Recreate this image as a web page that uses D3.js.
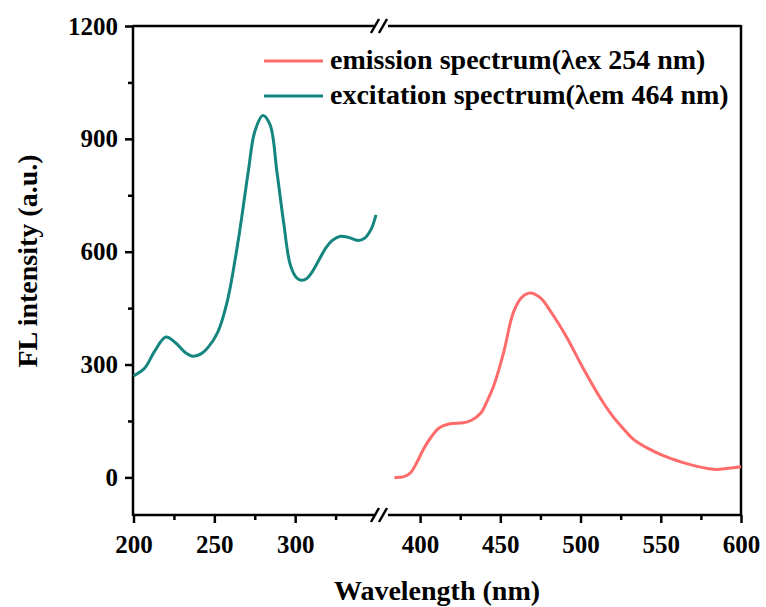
<!DOCTYPE html>
<html>
<head>
<meta charset="utf-8">
<script src="https://cdn.jsdelivr.net/npm/d3@7"></script>
<style>
  body { margin: 0; background: #fff; }
  text { font-family: "Times New Roman", "Liberation Serif", serif; font-weight: bold; fill: #000; }
</style>
</head>
<body>
<svg id="chart" width="766" height="607"></svg>
<script>
// excitation spectrum (left part of the broken axis)
var exWave = [200, 207, 213, 220, 226, 232, 237, 242, 246, 252, 258, 265, 271, 275, 280, 284.5, 288.7, 292.8, 297, 301, 304, 307, 310, 315, 319, 323, 328, 333, 339, 343, 347, 350];
var exVal  = [270, 291, 335, 373, 358, 332, 322, 329, 345, 385, 468, 636, 813, 919, 962, 937, 813, 680, 565, 530, 524, 528, 543, 580, 610, 630, 641, 638, 630, 636, 660, 698];

// emission spectrum (right part)
var emWave = [384, 390, 394, 398, 402, 407, 412, 418, 427, 432, 438, 442, 446, 452, 458, 463, 468.5, 475, 482, 491, 502, 512, 520, 527, 533, 542, 552, 562, 572, 580, 585, 592, 600];
var emVal  = [0, 2, 12, 40, 74, 108, 132, 142, 145, 152, 172, 205, 245, 331, 437, 477, 490, 477, 437, 375, 287, 213, 163, 128, 101, 77, 57, 42, 30, 23, 21, 24, 28];

var yTicks = [0, 300, 600, 900, 1200];
var yMinor = [150, 450, 750, 1050];
var xTicksL = [200, 250, 300], xMinorL = [225, 275, 325];
var xTicksR = [400, 450, 500, 550, 600], xMinorR = [425, 475, 525, 575];

var seriesNames = ['emission spectrum(\u03bbex 254 nm)', 'excitation spectrum(\u03bbem 464 nm)'];
var colors = ['#ff6b6b', '#14857f'];

var L = 133, R = 741, T = 26, B = 515;
var svg = d3.select('#chart');

var y = d3.scaleLinear().domain([-100, 1200]).range([B, T]);
var xL = d3.scaleLinear().domain([200, 350]).range([L + 0.5, 376]);
var xR = d3.scaleLinear().domain([375, 600]).range([380, R]);

// y axis, major then minor ticks
var gy = svg.append('g').attr('transform', 'translate(' + L + ',0)');
gy.call(d3.axisLeft(y).tickValues(yTicks).tickSize(8).tickPadding(7).tickFormat(d3.format('d')));
gy.append('g').call(d3.axisLeft(y).tickValues(yMinor).tickSize(5).tickFormat(''));

// bottom axes
var gxL = svg.append('g').attr('transform', 'translate(0,' + B + ')');
gxL.call(d3.axisBottom(xL).tickValues(xTicksL).tickSize(8).tickPadding(12));
gxL.append('g').call(d3.axisBottom(xL).tickValues(xMinorL).tickSize(5).tickFormat(''));
var gxR = svg.append('g').attr('transform', 'translate(0,' + B + ')');
gxR.call(d3.axisBottom(xR).tickValues(xTicksR).tickSize(8).tickPadding(12));
gxR.append('g').call(d3.axisBottom(xR).tickValues(xMinorR).tickSize(5).tickFormat(''));

svg.selectAll('.domain').remove();
svg.selectAll('.tick line').attr('stroke', '#000').attr('stroke-width', 2.5);
svg.selectAll('.tick text').style('font-size', '25px');

// frame with axis breaks
var frame = svg.append('g').attr('stroke', '#000').attr('stroke-width', 2.5).attr('fill', 'none');
frame.append('line').attr('x1', L).attr('x2', L).attr('y1', T - 1).attr('y2', B + 1);
frame.append('line').attr('x1', R).attr('x2', R).attr('y1', T - 1).attr('y2', B + 1);
[T, B].forEach(function(yy){
  frame.append('line').attr('x1', L).attr('x2', 374).attr('y1', yy).attr('y2', yy);
  frame.append('line').attr('x1', 388).attr('x2', R).attr('y1', yy).attr('y2', yy);
  [375, 383].forEach(function(cx){
    frame.append('line').attr('x1', cx - 4).attr('y1', yy + 7).attr('x2', cx + 4).attr('y2', yy - 7);
  });
});

// curves
var lineL = d3.line().x(d => xL(d[0])).y(d => y(d[1])).curve(d3.curveCatmullRom);
var lineR = d3.line().x(d => xR(d[0])).y(d => y(d[1])).curve(d3.curveCatmullRom);

svg.append('path').datum(d3.zip(emWave, emVal))
  .attr('d', lineR).attr('fill', 'none').attr('stroke', colors[0]).attr('stroke-width', 3)
  .attr('stroke-linejoin', 'round');
svg.append('path').datum(d3.zip(exWave, exVal))
  .attr('d', lineL).attr('fill', 'none').attr('stroke', colors[1]).attr('stroke-width', 3)
  .attr('stroke-linejoin', 'round');

// legend
var lg = svg.append('g');
seriesNames.forEach(function(name, i){
  var yy = 61 + i * 35;
  lg.append('line').attr('x1', 264).attr('x2', 323).attr('y1', yy).attr('y2', yy)
    .attr('stroke', colors[i]).attr('stroke-width', 3);
  lg.append('text').attr('x', 330).attr('y', yy + 8).style('font-size', '28px').text(name);
});

// axis titles
svg.append('text').attr('x', 437).attr('y', 600).attr('text-anchor', 'middle')
  .style('font-size', '28px').text('Wavelength (nm)');
svg.append('text').attr('transform', 'translate(37,261) rotate(-90)').attr('text-anchor', 'middle')
  .style('font-size', '28px').text('FL intensity (a.u.)');
</script>
</body>
</html>
